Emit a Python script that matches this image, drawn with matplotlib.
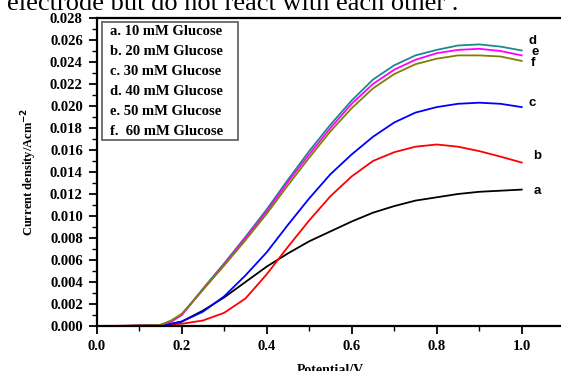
import matplotlib.pyplot as plt
from matplotlib.ticker import MultipleLocator
from matplotlib.patches import Rectangle

# potential (V) and current density (A cm^-2)
potential = [0.0, 0.05, 0.1, 0.15, 0.175, 0.2, 0.25, 0.3, 0.35, 0.4, 0.45,
             0.5, 0.55, 0.6, 0.65, 0.7, 0.75, 0.8, 0.85, 0.9, 0.95, 1.0]

cur_a = [0, 0, 0.00002, 0.00008, 0.0002, 0.0004, 0.0014, 0.0026, 0.0040, 0.0054, 0.0066,
         0.0077, 0.0086, 0.0095, 0.0103, 0.0109, 0.0114, 0.0117, 0.0120, 0.0122, 0.0123, 0.0124]
cur_b = [0, 0.00002, 0.00005, 0.0001, 0.00015, 0.0002, 0.0005, 0.0012, 0.0025, 0.0047, 0.0072,
         0.0096, 0.0118, 0.0136, 0.0150, 0.0158, 0.0163, 0.0165, 0.0163, 0.0159, 0.0154, 0.01486]
cur_c = [0, 0, 0.00002, 0.00008, 0.0002, 0.0004, 0.0013, 0.0027, 0.0046, 0.0067, 0.0092,
         0.0116, 0.0138, 0.0156, 0.0172, 0.0185, 0.0194, 0.0199, 0.0202, 0.0203, 0.0202, 0.0199]
cur_d = [0, 0, 0.00003, 0.0001, 0.0004, 0.0010, 0.0034, 0.0057, 0.0081, 0.0106, 0.0133,
         0.0159, 0.0183, 0.0205, 0.0224, 0.0237, 0.0246, 0.0251, 0.0255, 0.0256, 0.0254, 0.02505]
cur_e = [0, 0, 0.00003, 0.0001, 0.0004, 0.0010, 0.0033, 0.0056, 0.0080, 0.0104, 0.0131,
         0.0156, 0.0180, 0.0202, 0.0220, 0.0233, 0.0242, 0.0248, 0.0251, 0.0252, 0.0250, 0.0246]
cur_f = [0, 0, 0.00003, 0.0001, 0.0005, 0.0011, 0.0033, 0.0055, 0.0078, 0.0102, 0.0128,
         0.0153, 0.0177, 0.0198, 0.0216, 0.0229, 0.0238, 0.0243, 0.0246, 0.0246, 0.0245, 0.0241]

curves = [cur_a, cur_b, cur_c, cur_d, cur_e, cur_f]
colors = ['black', '#ff0000', '#0000ff', '#1a8a8a', '#ff00ff', '#808000']
letters = ['a', 'b', 'c', 'd', 'e', 'f']
legend_lines = ['a. 10 mM Glucose', 'b. 20 mM Glucose', 'c. 30 mM Glucose',
                'd. 40 mM Glucose', 'e. 50 mM Glucose', 'f.  60 mM Glucose']
# where the letter tags sit at the right end of each curve
tag_x = [1.029, 1.027, 1.016, 1.016, 1.022, 1.021]
tag_y = [0.01226, 0.01546, 0.02027, 0.02590, 0.02492, 0.02392]

serif = 'Liberation Serif'

fig = plt.figure(figsize=(5.61, 3.71), dpi=100)
ax = fig.add_axes([0.1724, 0.1213, 0.8333, 0.8302])

for y, c in zip(curves, colors):
    ax.plot(potential, y, color=c, lw=1.3)

for lt, x, y in zip(letters, tag_x, tag_y):
    ax.text(x, y, lt, fontsize=9.5, fontweight='bold', family='Liberation Sans',
            ha='left', va='center')

ax.set_xlim(0, 1.1)
ax.set_ylim(0, 0.028)
ax.set_xticks([0.0, 0.2, 0.4, 0.6, 0.8, 1.0])
ax.set_yticks([i * 0.002 for i in range(15)])
ax.xaxis.set_minor_locator(MultipleLocator(0.1))
ax.yaxis.set_minor_locator(MultipleLocator(0.001))
ax.set_xticklabels(['0.0', '0.2', '0.4', '0.6', '0.8', '1.0'])
ax.set_yticklabels(['%.3f' % (i * 0.002) for i in range(15)])
ax.tick_params(which='major', direction='out', length=6, width=1.3, pad=4,
               labelsize=10.5)
ax.tick_params(which='minor', direction='out', length=3.5, width=1.0)
for lab in ax.get_xticklabels() + ax.get_yticklabels():
    lab.set_family(serif)
    lab.set_fontweight('bold')
for s in ax.spines.values():
    s.set_linewidth(1.6)

ax.set_xlabel('Potential/V', family=serif, fontweight='bold', fontsize=10, labelpad=8)
ax.set_ylabel('Current density/Acm$^{\\mathbf{-2}}$', family=serif, fontweight='bold',
              fontsize=9, labelpad=8)

# legend drawn as a framed box with one text line per entry
ax.add_patch(Rectangle((0.0113, 0.604), 0.291, 0.383, transform=ax.transAxes,
                       fc='white', ec='#666666', lw=1.3, zorder=3))
for i, line in enumerate(legend_lines):
    ax.text(0.0285, (326 - (32 + 20 * i)) / 308, line, transform=ax.transAxes,
            family=serif, fontweight='bold', fontsize=10.5, va='center', ha='left',
            zorder=4)

# the cut-off line of the page above the chart
fig.text(0.012, 0.973, 'electrode but do not react with each other .',
         family=serif, fontsize=19, va='baseline', ha='left')

fig.savefig('out.png', dpi=100)
